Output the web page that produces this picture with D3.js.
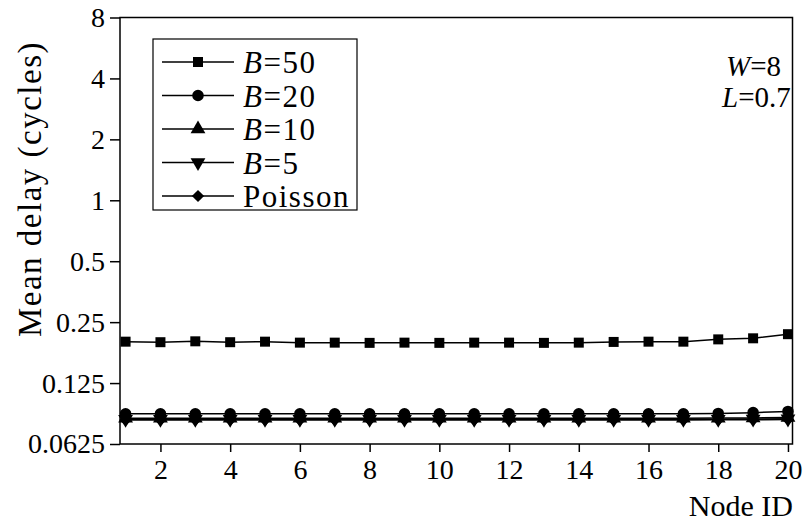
<!DOCTYPE html>
<html><head><meta charset="utf-8">
<script src="https://cdn.jsdelivr.net/npm/d3@7"></script>
<style>body{margin:0;background:#fff}svg{display:block}</style>
</head><body><svg id="c" width="807" height="532"></svg>
<script>
const nodes = d3.range(1, 21);
const yTicks = [0.0625, 0.125, 0.25, 0.5, 1, 2, 4, 8];
const yTickLabels = ["0.0625", "0.125", "0.25", "0.5", "1", "2", "4", "8"];
const xTicks = [2, 4, 6, 8, 10, 12, 14, 16, 18, 20];
const b50 = [0.2002,0.199,0.201,0.199,0.2002,0.198,0.198,0.1975,0.198,0.1975,0.198,0.198,0.1975,0.198,0.1996,0.2002,0.2002,0.2055,0.208,0.218];
const b20 = [0.0882,0.0882,0.0882,0.0882,0.0882,0.0882,0.0882,0.0882,0.0882,0.0882,0.0882,0.0882,0.0882,0.0882,0.0882,0.0882,0.0882,0.0885,0.0893,0.0905];
const b10 = [0.0838,0.0838,0.0838,0.0838,0.0838,0.0838,0.0838,0.0838,0.0838,0.0838,0.0838,0.0838,0.0838,0.0838,0.0838,0.0838,0.0838,0.0839,0.0841,0.0845];
const b5 = [0.0828,0.0828,0.0828,0.0828,0.0828,0.0828,0.0828,0.0828,0.0828,0.0828,0.0828,0.0828,0.0828,0.0828,0.0828,0.0828,0.0828,0.0829,0.083,0.0832];
const poisson = [0.0822,0.0822,0.0822,0.0822,0.0822,0.0822,0.0822,0.0822,0.0822,0.0822,0.0822,0.0822,0.0822,0.0822,0.0822,0.0822,0.0822,0.0823,0.0824,0.0826];
const seriesNames = ["B=50", "B=20", "B=10", "B=5", "Poisson"];
const seriesData = [b50, b20, b10, b5, poisson];
const seriesSymbols = ["square", "circle", "up", "down", "diamond"];

const FONT = "Liberation Serif, Times New Roman, Times, Tinos, Noto Serif, DejaVu Serif, FreeSerif, Nimbus Roman, serif";
const svg = d3.select("#c").style("font-family", FONT);
const L = 120, R = 792.5, T = 17.5, B = 444;
const x = d3.scaleLinear().domain([0.84, 20.13]).range([L, R]);
const y = d3.scaleLog().base(2).domain([0.0625, 8]).range([B, T]);

svg.append("rect").attr("x", L).attr("y", T).attr("width", R - L).attr("height", B - T)
  .attr("fill", "none").attr("stroke", "#000").attr("stroke-width", 1.5);

const yAxis = svg.append("g").attr("transform", `translate(${L},0)`)
  .call(d3.axisLeft(y).tickValues(yTicks).tickSize(10).tickPadding(5)
    .tickFormat((d, i) => yTickLabels[i]));
const xAxis = svg.append("g").attr("transform", `translate(0,${B})`)
  .call(d3.axisBottom(x).tickValues(xTicks).tickSize(8).tickPadding(7));
[yAxis, xAxis].forEach(g => {
  g.attr("font-family", null).attr("font-size", null);
  g.select(".domain").remove();
  g.selectAll(".tick line").attr("stroke", "#000").attr("stroke-width", 1.5);
  g.selectAll("text").style("font-family", FONT).style("font-size", "28px").attr("fill", "#000");
});

const symType = {square: d3.symbolSquare, circle: d3.symbolCircle, up: d3.symbolTriangle, down: d3.symbolTriangle, diamond: d3.symbolSquare};
const symRot = {square: 0, circle: 0, up: 0, down: 180, diamond: 45};
const sizes = {square: 100, circle: 105, up: 95, down: 95, diamond: 75};
function sym(s) { return d3.symbol().type(symType[s]).size(sizes[s])(); }
const line = d3.line().x((d, i) => x(nodes[i])).y(d => y(d));
seriesData.forEach((vals, k) => {
  const s = seriesSymbols[k];
  svg.append("path").attr("d", line(vals)).attr("fill", "none").attr("stroke", "#000").attr("stroke-width", 1.5);
  svg.selectAll(null).data(vals).enter().append("path")
    .attr("d", sym(s))
    .attr("transform", (d, i) => `translate(${x(nodes[i])},${y(d)}) rotate(${symRot[s]})`)
    .attr("fill", "#000");
});

const lg = svg.append("g");
lg.append("rect").attr("x", 153).attr("y", 39).attr("width", 204).attr("height", 171)
  .attr("fill", "#fff").attr("stroke", "#000").attr("stroke-width", 1.2);
seriesNames.forEach((n, k) => {
  const s = seriesSymbols[k];
  const yy = 62 + k * 33.5;
  lg.append("line").attr("x1", 162).attr("x2", 234).attr("y1", yy).attr("y2", yy).attr("stroke", "#000").attr("stroke-width", 1.5);
  lg.append("path").attr("d", sym(s))
    .attr("transform", `translate(198,${yy}) rotate(${symRot[s]})`).attr("fill", "#000");
  const t = lg.append("text").attr("x", 243).attr("y", yy + 11).style("font-family", FONT).style("font-size", "31px")
    .style("letter-spacing", "1.5px");
  if (n.startsWith("B=")) {
    t.append("tspan").style("font-style", "italic").text("B");
    t.append("tspan").text(n.slice(1));
  } else t.text(n);
});

const a1 = svg.append("text").attr("x", 726).attr("y", 76).style("font-family", FONT).style("font-size", "29px");
a1.append("tspan").style("font-style", "italic").text("W");
a1.append("tspan").text("=8");
const a2 = svg.append("text").attr("x", 722).attr("y", 107).style("font-family", FONT).style("font-size", "29px");
a2.append("tspan").style("font-style", "italic").text("L");
a2.append("tspan").text("=0.7");

svg.append("text").attr("x", 793).attr("y", 516).attr("text-anchor", "end").style("font-family", FONT).style("font-size", "30px").text("Node ID");
svg.append("text").attr("transform", "translate(41,189) rotate(-90)").attr("text-anchor", "middle")
  .style("font-family", FONT).style("font-size", "33px").style("letter-spacing", "1.5px").text("Mean delay (cycles)");
</script></body></html>
